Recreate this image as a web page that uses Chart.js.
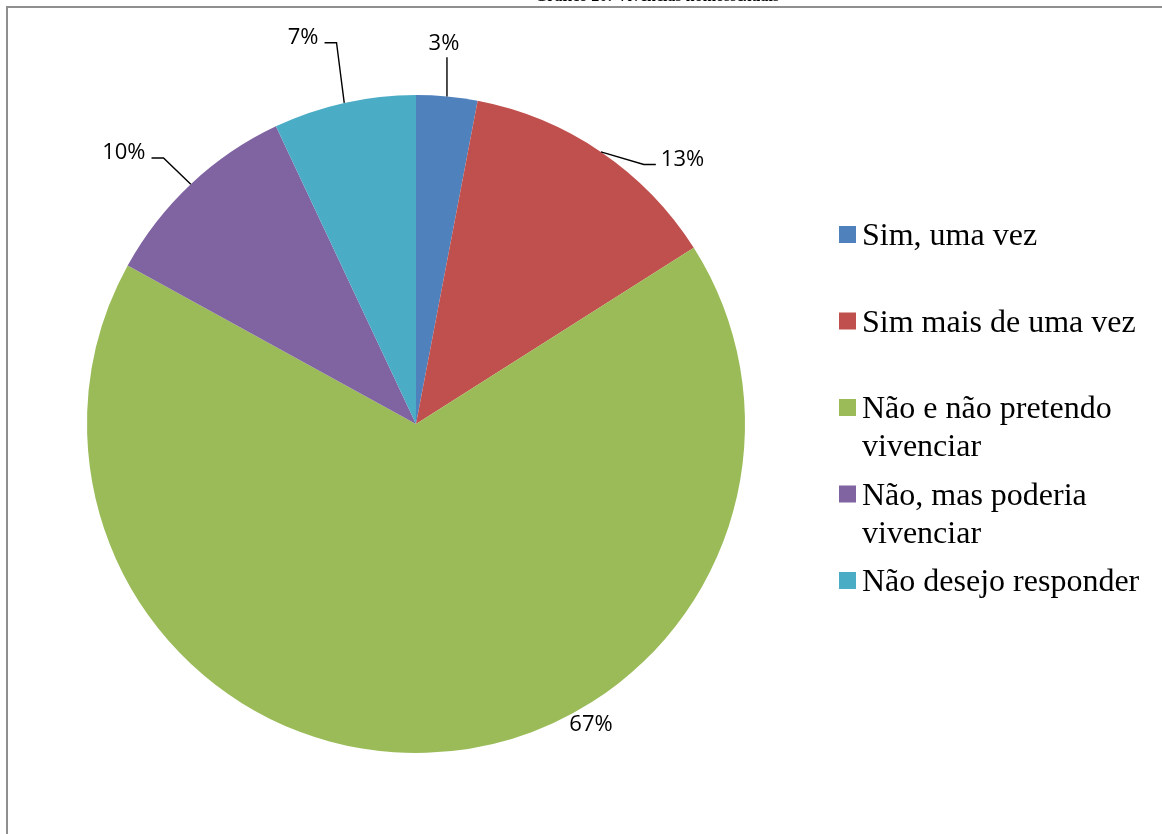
<!DOCTYPE html>
<html>
<head>
<meta charset="utf-8">
<script src="https://cdn.jsdelivr.net/npm/chart.js@4.4.1/dist/chart.umd.min.js"></script>
<style>
  html, body { margin: 0; padding: 0; background: #fff; }
  #wrap { width: 1162px; height: 834px; }
</style>
</head>
<body>
<div id="wrap"><canvas id="chart" width="1162" height="834"></canvas></div>
<script>
// pie: share of answers, in percent
const chartTitle = 'Gráfico 20: Vivências homossexuais';
const categories = [
  'Sim, uma vez',
  'Sim mais de uma vez',
  'Não e não pretendo vivenciar',
  'Não, mas poderia vivenciar',
  'Não desejo responder'
];
const shares = [3, 13, 67, 10, 7];
const sliceColors = ['#4F81BD', '#C0504D', '#9BBB59', '#8064A2', '#4BACC6'];

// where each percent label sits, relative to the pie centre in radius units,
// and which side the leader line attaches to
const labelSpots = [
  { dx: 0.085, dy: -1.16, leader: 'up' },
  { dx: 0.810, dy: -0.81, leader: 'left' },
  { dx: 0.532, dy: 0.91, leader: 'none' },
  { dx: -0.888, dy: -0.83, leader: 'right' },
  { dx: -0.343, dy: -1.18, leader: 'right' }
];

const LABEL_FONT = '22px "Open Sans", sans-serif';
const LEGEND_FONT = '32px "Liberation Serif", "Times New Roman", serif';

// frame, clipped title, percent labels with leaders, and the side legend
const decorations = {
  id: 'decorations',
  afterDraw(chart) {
    const ctx = chart.ctx;
    ctx.save();

    // outer frame (runs off the right and bottom edge)
    ctx.strokeStyle = '#8f8f8f';
    ctx.lineWidth = 2;
    ctx.strokeRect(7, 7, 1200, 900);

    // title, mostly above the visible area
    ctx.fillStyle = '#000';
    ctx.font = 'bold 16px "Liberation Serif", serif';
    ctx.textAlign = 'center';
    ctx.textBaseline = 'alphabetic';
    ctx.fillText(chartTitle, 657, 1);

    // percent labels
    const meta = chart.getDatasetMeta(0);
    const total = shares.reduce((a, b) => a + b, 0);
    ctx.font = LABEL_FONT;
    ctx.lineWidth = 1.4;
    ctx.strokeStyle = '#000';
    meta.data.forEach((arc, i) => {
      const spot = labelSpots[i];
      const r = arc.outerRadius;
      const text = Math.round(shares[i] / total * 100) + '%';
      const cx = arc.x + spot.dx * r;
      const cy = arc.y + spot.dy * r;
      const w = ctx.measureText(text).width;
      const base = cy + 8;
      ctx.textAlign = 'center';
      ctx.fillText(text, cx, base);

      const mid = (arc.startAngle + arc.endAngle) / 2;
      const px = arc.x + Math.cos(mid) * r;
      const py = arc.y + Math.sin(mid) * r;
      ctx.beginPath();
      if (spot.leader === 'up') {
        ctx.moveTo(px, py);
        ctx.lineTo(px, base + 7);
      } else if (spot.leader === 'left') {
        const ex = cx - w / 2 - 5;
        ctx.moveTo(px, py);
        ctx.lineTo(ex - 12, base - 1);
        ctx.lineTo(ex, base - 1);
      } else if (spot.leader === 'right') {
        const ex = cx + w / 2 + 6;
        ctx.moveTo(px, py);
        ctx.lineTo(ex + 12, base - 1);
        ctx.lineTo(ex, base - 1);
      }
      ctx.stroke();
    });

    // legend
    ctx.font = LEGEND_FONT;
    ctx.textAlign = 'left';
    const legendX = 839, legendTop = 226, rowStep = 86.5, maxW = 285;
    chart.data.labels.forEach((label, i) => {
      const top = legendTop + i * rowStep;
      ctx.fillStyle = sliceColors[i];
      ctx.fillRect(legendX, top, 17, 17);
      ctx.fillStyle = '#000';
      // wrap the text to the legend width
      const words = label.split(' ');
      const lines = [];
      let line = '';
      words.forEach(wd => {
        const test = line ? line + ' ' + wd : wd;
        if (ctx.measureText(test).width > maxW && line) {
          lines.push(line);
          line = wd;
        } else {
          line = test;
        }
      });
      lines.push(line);
      lines.forEach((ln, k) => ctx.fillText(ln, legendX + 23, top + 19 + k * 38));
    });

    ctx.restore();
  }
};

new Chart(document.getElementById('chart'), {
  type: 'pie',
  data: {
    labels: categories,
    datasets: [{
      data: shares,
      backgroundColor: sliceColors,
      borderWidth: 0
    }]
  },
  options: {
    responsive: false,
    animation: false,
    layout: { padding: { left: 87, top: 95, right: 417, bottom: 81 } },
    plugins: {
      legend: { display: false },
      tooltip: { enabled: false }
    }
  },
  plugins: [decorations]
});
</script>
</body>
</html>
